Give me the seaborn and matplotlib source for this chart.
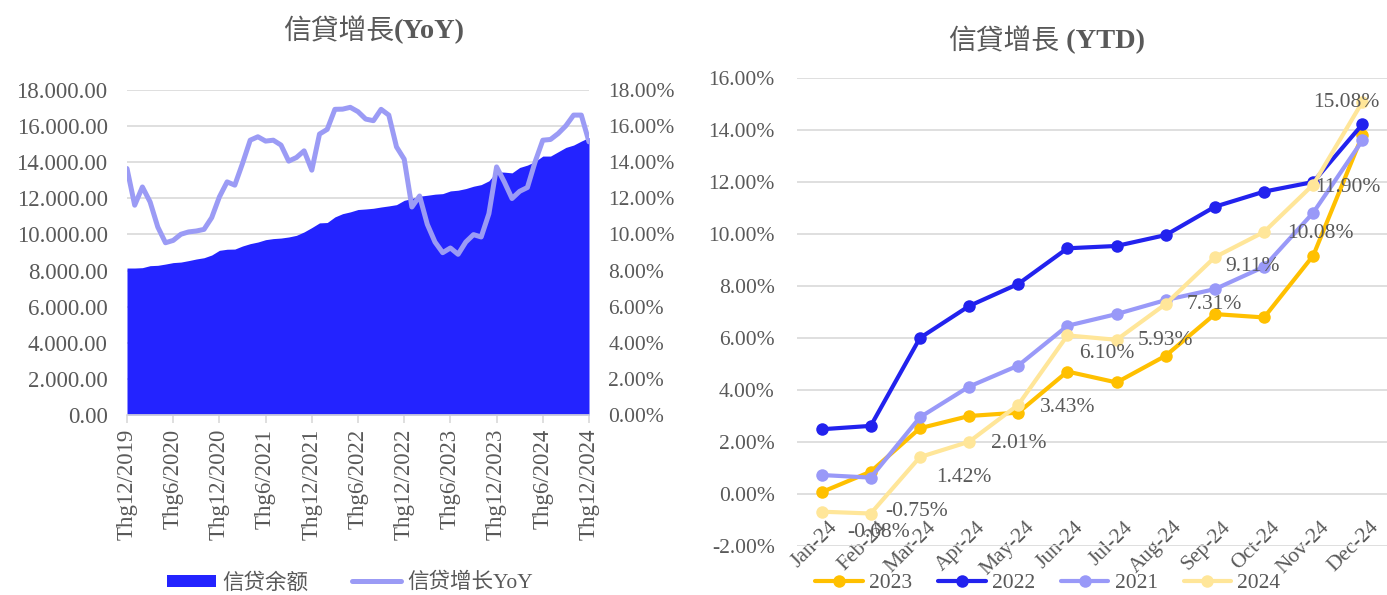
import numpy as np
import pandas as pd
import matplotlib
matplotlib.use('Agg')
import matplotlib.pyplot as plt
import matplotlib.transforms as mtransforms
from matplotlib.patches import Patch
from matplotlib.lines import Line2D
from matplotlib.ticker import FuncFormatter
import seaborn as sns

# ---------------- data ----------------
credit_balance = [8140, 8140, 8160, 8270, 8290, 8360, 8440, 8470, 8550, 8640,
                  8710, 8860, 9120, 9180, 9190, 9360, 9490, 9580, 9710, 9770,
                  9800, 9860, 9950, 10140, 10380, 10640, 10660, 10970, 11150, 11250,
                  11380, 11410, 11450, 11520, 11580, 11650, 11890, 11990, 12120, 12170,
                  12230, 12260, 12410, 12450, 12540, 12670, 12760, 12970, 13470, 13450,
                  13410, 13710, 13840, 14040, 14340, 14340, 14580, 14820, 14950, 15170,
                  15370]
credit_yoy = [13.65, 11.62, 12.63, 11.80, 10.41, 9.54, 9.67, 10.01, 10.14, 10.19,
              10.28, 10.93, 12.08, 12.91, 12.73, 13.93, 15.22, 15.41, 15.17, 15.22,
              14.95, 14.06, 14.26, 14.63, 13.56, 15.56, 15.82, 16.93, 16.94, 17.04,
              16.80, 16.39, 16.30, 16.93, 16.61, 14.85, 14.17, 11.52, 12.13, 10.56,
              9.58, 8.99, 9.25, 8.90, 9.58, 9.99, 9.86, 11.15, 13.74, 12.91,
              11.99, 12.39, 12.60, 14.02, 15.22, 15.26, 15.59, 16.02, 16.61, 16.61,
              15.13]
left_tick_labels = ["Thg12/2019", "Thg6/2020", "Thg12/2020", "Thg6/2021", "Thg12/2021",
                    "Thg6/2022", "Thg12/2022", "Thg6/2023", "Thg12/2023", "Thg6/2024",
                    "Thg12/2024"]

months_ytd = ["Jan-24", "Feb-24", "Mar-24", "Apr-24", "May-24", "Jun-24",
              "Jul-24", "Aug-24", "Sep-24", "Oct-24", "Nov-24", "Dec-24"]
ytd_2023 = [0.07, 0.86, 2.53, 3.00, 3.13, 4.71, 4.29, 5.32, 6.92, 6.79, 9.17, 13.80]
ytd_2022 = [2.49, 2.62, 6.00, 7.23, 8.08, 9.45, 9.54, 9.96, 11.05, 11.63, 12.00, 14.22]
ytd_2021 = [0.73, 0.63, 2.95, 4.13, 4.94, 6.47, 6.92, 7.46, 7.88, 8.74, 10.82, 13.60]
ytd_2024 = [-0.68, -0.75, 1.42, 2.01, 3.43, 6.10, 5.93, 7.31, 9.11, 10.08, 11.90, 15.08]
year_order = ["2023", "2022", "2021", "2024"]

# label placement for 2024 data labels (pixels: right, down)
label_dx = [26, 15, 16, 22, 22, 12, 21, 21, 10, 23, 2, -49]
label_dy = [21, -2, 20, 2, 3, 18, 1, 1, 9, 2, 3, 1]

# ---------------- style ----------------
sns.set_theme(style='white')
plt.rcParams['font.family'] = ['Liberation Serif', 'Noto Sans CJK TC', 'DejaVu Sans']
TXT = '#595959'
GRID = '#D9D9D9'
AREA = '#2323FF'
YOY = '#9B9BF5'
palette = {"2023": "#FFC000", "2022": "#2222EE", "2021": "#9999F8", "2024": "#FFE699"}
FS = 15.5
FSL = 16.5

W, H = 1387, 595
fig = plt.figure(figsize=(W / 100, H / 100), dpi=100)


def rect(x0, y0, x1, y1):
    return [x0 / W, 1 - y1 / H, (x1 - x0) / W, (y1 - y0) / H]


def title(xc, y, cjk, latin):
    # CJK part regular, latin part bold, joined at xc
    fig.text(xc / W, 1 - y / H, cjk, ha='right', va='center', fontsize=20, color=TXT)
    fig.text(xc / W, 1 - y / H, latin, ha='left', va='center', fontsize=20.5,
             color=TXT, fontweight='bold')


# ---------------- left chart ----------------
axL = fig.add_axes(rect(127, 90, 589, 415))
xm = np.arange(len(credit_balance))
axL.fill_between(xm, credit_balance, color=AREA, lw=0, zorder=2)
axL.set_xlim(0, len(credit_balance) - 1)
axL.set_ylim(0, 18000)
axL.set_yticks(np.arange(0, 18001, 2000))
axL.yaxis.set_major_formatter(FuncFormatter(lambda v, p: f"{v:,.2f}".replace(",", ".")))
axL.set_xticks(np.arange(0, len(credit_balance), 6))
axL.set_xticklabels(left_tick_labels, rotation=90)
axL.grid(axis='y', color=GRID, lw=1.2, zorder=0)
axL.set_axisbelow(True)
for s in ['left', 'right', 'top']:
    axL.spines[s].set_visible(False)
axL.spines['bottom'].set_color(GRID)
axL.spines['bottom'].set_linewidth(1.2)
axL.tick_params(axis='x', length=6, color=GRID, width=1.2, labelsize=FSL, labelcolor=TXT, pad=4, bottom=True)
axL.tick_params(axis='y', length=0, labelsize=FSL, labelcolor=TXT, pad=14)

axL2 = axL.twinx()
sns.lineplot(x=xm, y=credit_yoy, ax=axL2, color=YOY, linewidth=3.6, legend=False)
axL2.set_ylim(0, 18)
axL2.set_yticks(np.arange(0, 18.01, 2))
axL2.yaxis.set_major_formatter(FuncFormatter(lambda v, p: f"{v:.2f}%"))
for s in axL2.spines.values():
    s.set_visible(False)
axL2.tick_params(axis='y', length=0, labelsize=FS, labelcolor=TXT, pad=14)
axL2.set_xlim(0, len(credit_balance) - 1)
axL2.set_ylabel("")

title(394, 32, "信貸增長", "(YoY)")
fig.legend(handles=[Patch(facecolor=AREA, edgecolor='none'),
                    Line2D([], [], color=YOY, lw=3.6)],
           labels=["信贷余额", "信贷增长YoY"], loc='center',
           bbox_to_anchor=(350 / W, 1 - 583 / H), ncol=2, frameon=False,
           fontsize=FS, handlelength=2.3, handleheight=0.5, columnspacing=2.0,
           handletextpad=0.3, labelcolor=TXT)

# ---------------- right chart ----------------
axR = fig.add_axes(rect(797, 78, 1387, 546))
series = {"2023": ytd_2023, "2022": ytd_2022, "2021": ytd_2021, "2024": ytd_2024}
rows = []
for yr in year_order:
    for i, v in enumerate(series[yr]):
        rows.append({"idx": i, "month": months_ytd[i], "year": yr, "value": v})
df = pd.DataFrame(rows)
sns.lineplot(data=df, x="idx", y="value", hue="year", hue_order=year_order,
             palette=palette, marker='o', markersize=9, markeredgewidth=0,
             linewidth=3, ax=axR, legend=False, sort=False)
for s in ['left', 'right', 'top']:
    axR.spines[s].set_visible(False)
axR.spines['bottom'].set_position(('data', 0))
axR.spines['bottom'].set_visible(False)
axR.set_xlim(-0.5, 11.5)
axR.set_ylim(-2, 16)
axR.set_yticks(np.arange(-2, 16.01, 2))
axR.yaxis.set_major_formatter(FuncFormatter(lambda v, p: f"{v:.2f}%"))
axR.set_xticks(np.arange(len(months_ytd)))
axR.set_xticklabels(months_ytd, rotation=45, ha='right')
axR.set_xlabel("")
axR.set_ylabel("")
axR.grid(axis='y', color=GRID, lw=1.2, zorder=0)
axR.set_axisbelow(True)
axR.tick_params(axis='x', length=0, labelsize=FS, labelcolor=TXT, pad=17)
axR.tick_params(axis='y', length=0, labelsize=FS, labelcolor=TXT, pad=16)
offset = mtransforms.ScaledTranslation(20 / 100, 0, fig.dpi_scale_trans)
for lab in axR.get_xticklabels():
    lab.set_transform(lab.get_transform() + offset)

for i, v in enumerate(ytd_2024):
    axR.annotate(f"{v:.2f}%", (i, v), xytext=(label_dx[i] * 0.72, -label_dy[i] * 0.72),
                 textcoords='offset points', ha='left', va='center',
                 fontsize=FS, color=TXT, zorder=5, annotation_clip=False)

title(1059, 42, "信貸增長", " (YTD)")
handles = [Line2D([], [], color=palette[y], lw=3, marker='o', markersize=9,
                  markeredgewidth=0) for y in year_order]
fig.legend(handles=handles, labels=year_order, loc='center',
           bbox_to_anchor=(1048 / W, 1 - 583 / H), ncol=4, frameon=False,
           fontsize=FS, handlelength=2.2, columnspacing=1.2, handletextpad=0.3,
           labelcolor=TXT)

fig.savefig("out.png", dpi=100)
